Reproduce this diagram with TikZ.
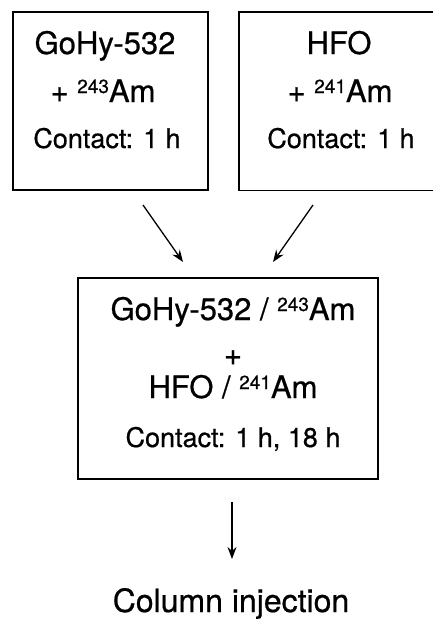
\documentclass[tikz,border=0pt]{standalone}
\usepackage{fontspec}
\setmainfont{TeX Gyre Heros}[FakeBold=0.6]
\usetikzlibrary{arrows.meta}
\newcommand{\bigtxt}{\fontsize{31}{36}\selectfont}
\newcommand{\smalltxt}{\fontsize{27}{32}\selectfont}
\newcommand{\coltxt}{\fontsize{32}{38}\selectfont}
\newcommand{\iso}[1]{\raisebox{9pt}{\fontsize{19}{22}\selectfont #1}}
\begin{document}
\begin{tikzpicture}[x=1pt,y=-1pt,
  box/.style={draw=black, line width=1.4pt, inner sep=0pt, rectangle},
  openbox/.style={inner sep=0pt, rectangle},
  side/.style={draw=black, line width=1.4pt},
  txt/.style={anchor=base, inner sep=0pt, text=black},
  conn/.style={draw=black, line width=1.3pt, -{Stealth[length=12pt,width=9pt]}}]
\useasboundingbox (0,0) rectangle (433,619);
% boxes
\node[box, minimum width=195pt, minimum height=178pt] (b1) at (110.5,101) {};
\node[openbox, minimum width=210pt, minimum height=178pt] (b2) at (344,101) {};
\draw[side] (b2.north east) -- (b2.north west) -- (b2.south west) -- (b2.south east);
\node[box, minimum width=300pt, minimum height=201pt] (b3) at (228,378.5) {};
% box 1 text
\node[txt] (t11) at (105,54) {\bigtxt GoHy-532};
\node[txt] (t12) at (103,102) {\bigtxt + \iso{243}Am};
\node[txt] (t13) at (107,148) {\smalltxt Contact: 1 h};
% box 2 text
\node[txt] (t21) at (339,54) {\bigtxt HFO};
\node[txt] (t22) at (340,102) {\bigtxt + \iso{241}Am};
\node[txt] (t23) at (341,148) {\smalltxt Contact: 1 h};
% box 3 text
\node[txt] (t31) at (233,320) {\bigtxt GoHy-532 / \iso{243}Am};
\node[txt] (t32) at (233,365) {\bigtxt +};
\node[txt] (t33) at (233,398) {\bigtxt HFO / \iso{241}Am};
\node[txt] (t34) at (233,447) {\smalltxt Contact: 1 h, 18 h};
% final text
\node[txt] (col) at (231,612) {\coltxt Column injection};
% arrow end points
\coordinate (a1s) at (143,205);
\coordinate (a1e) at (183,262);
\coordinate (a2s) at (313,205);
\coordinate (a2e) at (273,262);
\coordinate (a3s) at (232,502);
\coordinate (a3e) at (232,559);
\draw[conn] (a1s) -- (a1e);
\draw[conn] (a2s) -- (a2e);
\draw[conn] (a3s) -- (a3e);
\end{tikzpicture}
\end{document}
